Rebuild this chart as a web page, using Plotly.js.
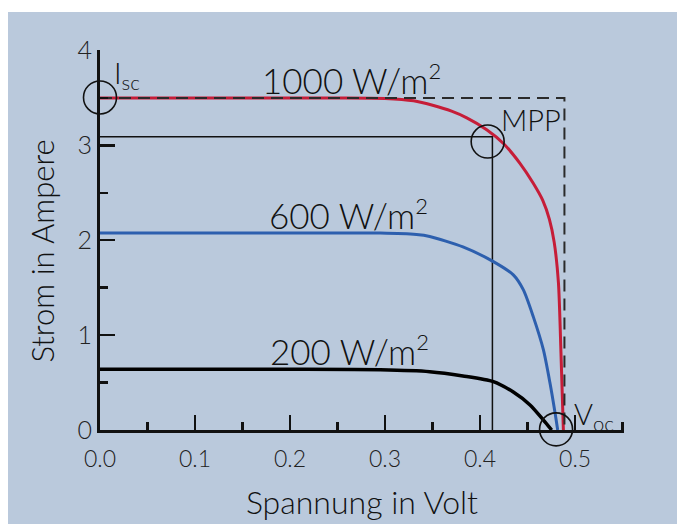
<!DOCTYPE html>
<html><head><meta charset="utf-8">
<script src="https://cdn.plot.ly/plotly-3.0.1.min.js"></script>
<style>
html,body{margin:0;padding:0;background:#fff;width:677px;height:524px;overflow:hidden}
#chart{position:absolute;left:8px;top:12px;width:669px;height:512px}
</style></head><body><div id="chart"></div>
<script>
// Spannung (V) / Strom (A) for the three irradiance levels
const V_1000 = [0, 0.05, 0.1, 0.15, 0.2, 0.25, 0.3, 0.33, 0.351, 0.37, 0.386, 0.407, 0.4246, 0.442, 0.456, 0.466, 0.473, 0.478, 0.4825, 0.4852, 0.4877];
const I_1000 = [3.5, 3.5, 3.5, 3.5, 3.5, 3.5, 3.495, 3.47, 3.42, 3.36, 3.29, 3.165, 3.02, 2.81, 2.60, 2.42, 2.22, 1.98, 1.55, 0.8, 0];
const V_600 = [0, 0.1, 0.2, 0.295, 0.333, 0.347, 0.382, 0.414, 0.435, 0.4456, 0.456, 0.4667, 0.4737, 0.479, 0.4817];
const I_600 = [2.075, 2.075, 2.075, 2.075, 2.06, 2.04, 1.93, 1.775, 1.635, 1.477, 1.195, 0.844, 0.49, 0.176, 0];
const V_200 = [0, 0.1, 0.2, 0.295, 0.347, 0.382, 0.414, 0.435, 0.4526, 0.4667, 0.4754];
const I_200 = [0.64, 0.64, 0.64, 0.635, 0.615, 0.57, 0.51, 0.40, 0.264, 0.105, 0];
// characteristic points
const ISC = 3.5;          // short-circuit current (1000 W/m2)
const VOC_RECT = 0.4888;  // ideal rectangle corner voltage
const MPP_V = 0.413, MPP_I = 3.09;   // maximum power point lines
const MPP_MARK = [0.408, 3.04];      // MPP circle
const ISC_MARK = [0, 3.505];
const VOC_MARK = [0.48, 0.007];
const SQ = "<sup><span style='font-size:22px'>2</span></sup>";
const LABELS = ["1000 W/m" + SQ, "600 W/m" + SQ, "200 W/m" + SQ];
const LABEL_POS = [[0.265, 3.70], [0.262, 2.28], [0.263, 0.84]];
const X_TICKS = [0, 0.1, 0.2, 0.3, 0.4, 0.5];
const X_TICKTEXT = ["0.0", "0.1", "0.2", "0.3", "0.4", "0.5"];
const Y_TICKS = [0, 1, 2, 3, 4];

const FONT = "Lato, 'Open Sans', 'Liberation Sans', sans-serif";
const W = 300;
const BG = "#bac9dc";

const traces = [
  {x: [0, MPP_V, MPP_V], y: [MPP_I, MPP_I, 0], mode: 'lines', line: {color: '#111', width: 1.5}, hoverinfo: 'skip'},
  {x: V_200, y: I_200, mode: 'lines', line: {color: '#000', width: 3.5, shape: 'spline', smoothing: 0.7}},
  {x: V_600, y: I_600, mode: 'lines', line: {color: '#2d5fae', width: 3, shape: 'spline', smoothing: 0.7}},
  {x: V_1000, y: I_1000, mode: 'lines', line: {color: '#c61d38', width: 3, shape: 'spline', smoothing: 0.7}},
  {x: [0, VOC_RECT, VOC_RECT], y: [ISC, ISC, 0], mode: 'lines', line: {color: '#2a2a2a', width: 2, dash: '12px,7px'}},
  {x: [ISC_MARK[0], MPP_MARK[0], VOC_MARK[0]], y: [ISC_MARK[1], MPP_MARK[1], VOC_MARK[1]], mode: 'markers',
   marker: {symbol: 'circle-open', size: 33, color: '#111', line: {width: 1.6, color: '#111'}}, cliponaxis: false}
];

const annotations = LABELS.map((t, i) => ({
  x: LABEL_POS[i][0], y: LABEL_POS[i][1], xref: 'x', yref: 'y', text: t, showarrow: false,
  xanchor: 'center', yanchor: 'middle', font: {family: FONT, size: 35, color: '#111', weight: W}
}));
annotations.push({x: 0.454, y: 3.27, xref: 'x', yref: 'y', text: 'MPP', showarrow: false,
  xanchor: 'center', yanchor: 'middle', font: {family: FONT, size: 29, color: '#111', weight: W}});
annotations.push({x: 0.0125, y: 3.75, xref: 'x', yref: 'y', text: 'I<sub>sc</sub>', showarrow: false,
  xanchor: 'left', yanchor: 'middle', font: {family: FONT, size: 29, color: '#111', weight: W}});
annotations.push({x: 0.497, y: 0.15, xref: 'x', yref: 'y', text: 'V<sub>oc</sub>', showarrow: false,
  xanchor: 'left', yanchor: 'middle', font: {family: FONT, size: 29, color: '#111', weight: W}});
// y-axis title
annotations.push({x: -58 / 524, y: 1.88, xref: 'paper', yref: 'y', text: 'Strom in Ampere', showarrow: false,
  textangle: -90, xanchor: 'center', yanchor: 'middle', font: {family: FONT, size: 31, color: '#111', weight: W}});

const layout = {
  width: 669, height: 512,
  paper_bgcolor: BG, plot_bgcolor: BG,
  margin: {l: 92, r: 53, t: 38, b: 94},
  showlegend: false,
  font: {family: FONT, color: '#222', weight: W},
  xaxis: {
    range: [0, 0.5515], showgrid: false, zeroline: false,
    showline: true, linecolor: '#111', linewidth: 3,
    ticks: 'inside', ticklen: 15, tickwidth: 2.5, tickcolor: '#111',
    tickvals: X_TICKS, ticktext: X_TICKTEXT, tickfont: {family: FONT, size: 23, color: '#222', weight: W},
    ticklabelstandoff: 6,
    minor: {dtick: 0.05, tick0: 0, ticks: 'inside', ticklen: 8, tickwidth: 2.5, tickcolor: '#111'},
    title: {text: 'Spannung in Volt', font: {family: FONT, size: 32, color: '#111', weight: W}, standoff: 22}
  },
  yaxis: {
    range: [0, 4.005], showgrid: false, zeroline: false,
    showline: true, linecolor: '#111', linewidth: 3,
    ticks: 'inside', ticklen: 15, tickwidth: 2.5, tickcolor: '#111',
    tickvals: Y_TICKS, tickfont: {family: FONT, size: 25, color: '#222', weight: W},
    ticklabelstandoff: 0,
    minor: {dtick: 0.5, tick0: 0, ticks: 'inside', ticklen: 8, tickwidth: 2.5, tickcolor: '#111'}
  },
  annotations: annotations
};

Plotly.newPlot('chart', traces, layout, {displayModeBar: false, staticPlot: true});
</script></body></html>
